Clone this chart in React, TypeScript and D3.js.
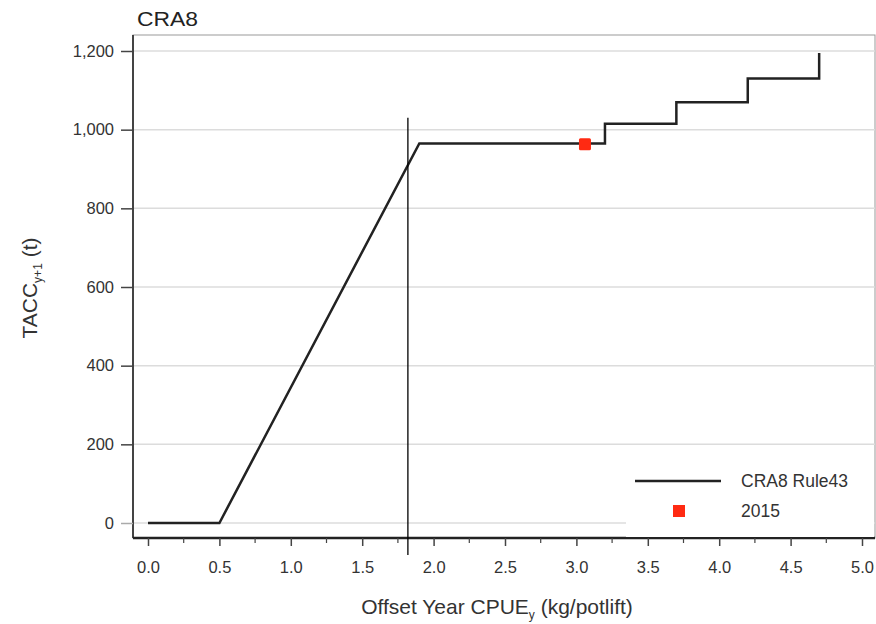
import React, { useEffect, useRef } from "react";
import * as d3 from "d3";

// harvest control rule CRA8 Rule43
const cpue = [0, 0.5, 1.9, 3.2, 3.2, 3.7, 3.7, 4.2, 4.2, 4.7, 4.7];
const tacc = [0, 0, 965, 965, 1015, 1015, 1070, 1070, 1130, 1130, 1195];
const pointYear = ["2015"];
const pointCpue = [3.06];
const pointTacc = [963];
const refLineCpue = 1.82;
const refLineTop = 1030;
const xTicks = [0, 0.5, 1, 1.5, 2, 2.5, 3, 3.5, 4, 4.5, 5];
const yTicks = [0, 200, 400, 600, 800, 1000, 1200];

const App = () => {
  const ref = useRef<SVGSVGElement>(null);

  useEffect(() => {
    const width = 876;
    const height = 624;
    const svg = d3.select(ref.current);
    svg.selectAll("*").remove();
    const font = "Liberation Sans, Arial, sans-serif";

    const x = d3.scaleLinear().domain([0, 5]).range([148, 862]);
    const y = d3.scaleLinear().domain([0, 1200]).range([523, 51]);
    const left = 133, top = 35, right = 875, bottom = 538;

    // plot frame
    svg.append("rect").attr("x", left).attr("y", top).attr("width", right - left)
      .attr("height", bottom - top).attr("fill", "#fff").attr("stroke", "#999").attr("stroke-width", 1);

    // grid
    svg.append("g").selectAll("line").data(yTicks).join("line")
      .attr("x1", left).attr("x2", right)
      .attr("y1", (d) => y(d)).attr("y2", (d) => y(d))
      .attr("stroke", "#dcdcdc").attr("stroke-width", 1.5);

    // y axis
    const yAxis = svg.append("g").attr("transform", `translate(${left},0)`)
      .attr("font-family", font).attr("font-size", 16.5)
      .call(d3.axisLeft(y).tickValues(yTicks).tickSize(12).tickPadding(7).tickFormat(d3.format(",")));
    yAxis.attr("font-family", font).attr("font-size", 16.5);
    yAxis.select(".domain").attr("d", `M0,${top}V${bottom}`).attr("stroke", "#444").attr("stroke-width", 2);
    yAxis.selectAll(".tick line").attr("stroke", (d) => (d === 0 ? "#aaa" : "#444")).attr("stroke-width", 1.5);
    yAxis.selectAll(".tick text").attr("fill", "#333");

    // x axis
    const xAxis = svg.append("g").attr("transform", `translate(0,${bottom})`)
      .call(d3.axisBottom(x).tickValues(xTicks).tickSize(8).tickPadding(15).tickFormat(d3.format(".1f")));
    xAxis.attr("font-family", font).attr("font-size", 16.5);
    xAxis.select(".domain").attr("d", `M${left},0H${right}`).attr("stroke", "#222").attr("stroke-width", 2.5);
    xAxis.selectAll(".tick line").attr("stroke", "#444").attr("stroke-width", 1.5);
    xAxis.selectAll(".tick text").attr("fill", "#333");
    const minor = d3.range(0.25, 5, 0.5);
    svg.append("g").selectAll("line").data(minor).join("line")
      .attr("x1", (d) => x(d)).attr("x2", (d) => x(d))
      .attr("y1", bottom).attr("y2", bottom + 5)
      .attr("stroke", "#444").attr("stroke-width", 1.2);

    // legend background
    svg.append("rect").attr("x", 626).attr("y", 462).attr("width", right - 627)
      .attr("height", bottom - 463).attr("fill", "#fff");

    // rule line
    const line = d3.line<number>().x((d, i) => x(cpue[i])).y((d) => y(d));
    svg.append("path").attr("d", line(tacc)).attr("fill", "none")
      .attr("stroke", "#222").attr("stroke-width", 2.5);

    // reference vertical line
    svg.append("line").attr("x1", x(refLineCpue)).attr("x2", x(refLineCpue))
      .attr("y1", y(refLineTop)).attr("y2", bottom + 17)
      .attr("stroke", "#000").attr("stroke-width", 1.3);

    // 2015 point
    svg.append("g").selectAll("rect").data(pointYear).join("rect")
      .attr("x", (d, i) => x(pointCpue[i]) - 6).attr("y", (d, i) => y(pointTacc[i]) - 6)
      .attr("width", 12).attr("height", 12).attr("rx", 1.5).attr("fill", "#ff2a12");

    // legend
    svg.append("line").attr("x1", 635).attr("x2", 721).attr("y1", 481).attr("y2", 481)
      .attr("stroke", "#222").attr("stroke-width", 2.5);
    svg.append("text").attr("x", 741).attr("y", 487).text("CRA8 Rule43")
      .attr("font-family", font).attr("font-size", 17.5).attr("fill", "#333");
    svg.append("rect").attr("x", 673).attr("y", 505).attr("width", 12).attr("height", 12)
      .attr("fill", "#ff2a12");
    svg.append("text").attr("x", 741).attr("y", 517).text(pointYear[0])
      .attr("font-family", font).attr("font-size", 17.5).attr("fill", "#333");

    // title
    svg.append("text").attr("x", 137).attr("y", 26).text("CRA8")
      .attr("font-family", font).attr("font-size", 20).attr("fill", "#222")
      .attr("textLength", 61).attr("lengthAdjust", "spacingAndGlyphs");

    // axis titles
    const xt = svg.append("text").attr("x", 497).attr("y", 614).attr("text-anchor", "middle")
      .attr("font-family", font).attr("font-size", 21).attr("fill", "#333");
    xt.append("tspan").text("Offset Year CPUE");
    xt.append("tspan").text("y").attr("font-size", 12).attr("dy", 5);
    xt.append("tspan").text(" (kg/potlift)").attr("dy", -5);

    const yt = svg.append("text").attr("transform", "translate(37,288) rotate(-90)")
      .attr("text-anchor", "middle").attr("font-family", font).attr("font-size", 21).attr("fill", "#333");
    yt.append("tspan").text("TACC");
    yt.append("tspan").text("y+1").attr("font-size", 12).attr("dy", 5);
    yt.append("tspan").text(" (t)").attr("dy", -5);

    svg.attr("width", width).attr("height", height);
  }, []);

  return (
    <svg ref={ref} width={876} height={624}
      style={{ position: "absolute", left: 0, top: 0, background: "#fff" }} />
  );
};

export default App;
